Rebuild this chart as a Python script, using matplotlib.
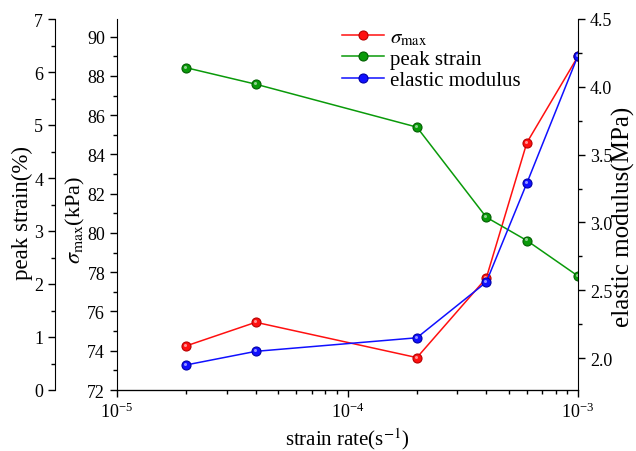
import matplotlib
matplotlib.use('Agg')
import matplotlib.pyplot as plt
from matplotlib.transforms import ScaledTranslation
from matplotlib.ticker import MultipleLocator, LogLocator, LogFormatterSciNotation, NullFormatter

plt.rcParams['font.family'] = ['Liberation Serif', 'DejaVu Serif']
plt.rcParams['mathtext.fontset'] = 'stix'

# strain rate (1/s)
strain_rate = [2e-5, 4e-5, 2e-4, 4e-4, 6e-4, 1e-3]
# sigma max (kPa)
sigma_max = [74.25, 75.45, 73.65, 77.7, 84.6, 89.0]
# peak strain (%)
peak_strain = [6.08, 5.77, 4.96, 3.26, 2.82, 2.15]
# elastic modulus (MPa)
elastic_modulus = [1.95, 2.05, 2.15, 2.56, 3.29, 4.23]

RED = '#ff1010'
GREEN = '#0a9a0a'
BLUE = '#1010ff'


def style_axis(axis):
    axis.tick_params(which='major', direction='out', length=5, width=1, labelsize=13)
    axis.tick_params(which='minor', direction='out', length=3, width=1)


def ball_plot(axis, x, y, color, edge, label):
    # line with markers, plus a small highlight so the dots look like shaded balls
    line, = axis.plot(x, y, color=color, marker='o', markersize=6.5, linewidth=1.1,
                      markeredgecolor=edge, markeredgewidth=0.8, label=label)
    shift = axis.transData + ScaledTranslation(-0.8 / 72, 0.8 / 72, fig.dpi_scale_trans)
    axis.plot(x, y, linestyle='none', marker='o', markersize=2.2, color='white',
              alpha=0.55, markeredgewidth=0, transform=shift)
    return line


fig = plt.figure(figsize=(6.36, 4.52), dpi=100)
ax = fig.add_axes([117 / 636, 1 - 391 / 452, 461 / 636, 371 / 452])
ax3 = ax.twinx()  # peak strain, offset left axis
ax2 = ax.twinx()  # elastic modulus, right axis

l1 = ball_plot(ax, strain_rate, sigma_max, RED, '#b80000', r'$\sigma_{\rm max}$')
l2 = ball_plot(ax3, strain_rate, peak_strain, GREEN, '#005f00', 'peak strain')
l3 = ball_plot(ax2, strain_rate, elastic_modulus, BLUE, '#0000a8', 'elastic modulus')

ax.set_xscale('log')
ax.set_xlim(1e-5, 1e-3)
ax.xaxis.set_major_locator(LogLocator(base=10, numticks=10))
ax.xaxis.set_minor_locator(LogLocator(base=10, subs=range(2, 10), numticks=10))
ax.xaxis.set_major_formatter(LogFormatterSciNotation())
ax.xaxis.set_minor_formatter(NullFormatter())

ax.set_ylim(72, 90.9)
ax.yaxis.set_major_locator(MultipleLocator(2))
ax.yaxis.set_minor_locator(MultipleLocator(1))

ax2.set_ylim(1.765, 4.5)
ax2.yaxis.set_major_locator(MultipleLocator(0.5))
ax2.yaxis.set_minor_locator(MultipleLocator(0.25))
ax2.yaxis.set_major_formatter(plt.FormatStrFormatter('%.1f'))

ax3.set_ylim(0, 7)
ax3.yaxis.set_major_locator(MultipleLocator(1))
ax3.yaxis.set_minor_locator(MultipleLocator(0.5))
ax3.spines['left'].set_position(('outward', 62 * 72 / 100))  # 62 px
ax3.spines['left'].set_visible(True)
ax3.yaxis.set_label_position('left')
ax3.yaxis.set_ticks_position('left')

for a in (ax, ax2, ax3):
    a.spines['top'].set_visible(False)
    style_axis(a)
ax3.spines['right'].set_visible(False)
ax.spines['right'].set_visible(False)
ax2.spines['left'].set_visible(False)

ax.set_xlabel(r'strain rate(s$^{-1}$)', fontsize=15, labelpad=3)
ax.set_ylabel(r'$\sigma_{\rm max}$(kPa)', fontsize=16)
ax.yaxis.set_label_coords(-0.066, 0.46)
ax3.set_ylabel('peak strain(%)', fontsize=16.5)
ax3.yaxis.set_label_coords(-0.182, 0.48)
ax2.set_ylabel('elastic modulus(MPa)', fontsize=18)
ax2.yaxis.set_label_coords(1.074, 0.47)

ax2.legend(handles=[l1, l2, l3], loc='upper left', bbox_to_anchor=(0.462, 1.01),
           frameon=False, fontsize=15, handlelength=2.0, handletextpad=0.3,
           labelspacing=0.08, borderaxespad=0.2)

fig.savefig('out.png', dpi=100)
